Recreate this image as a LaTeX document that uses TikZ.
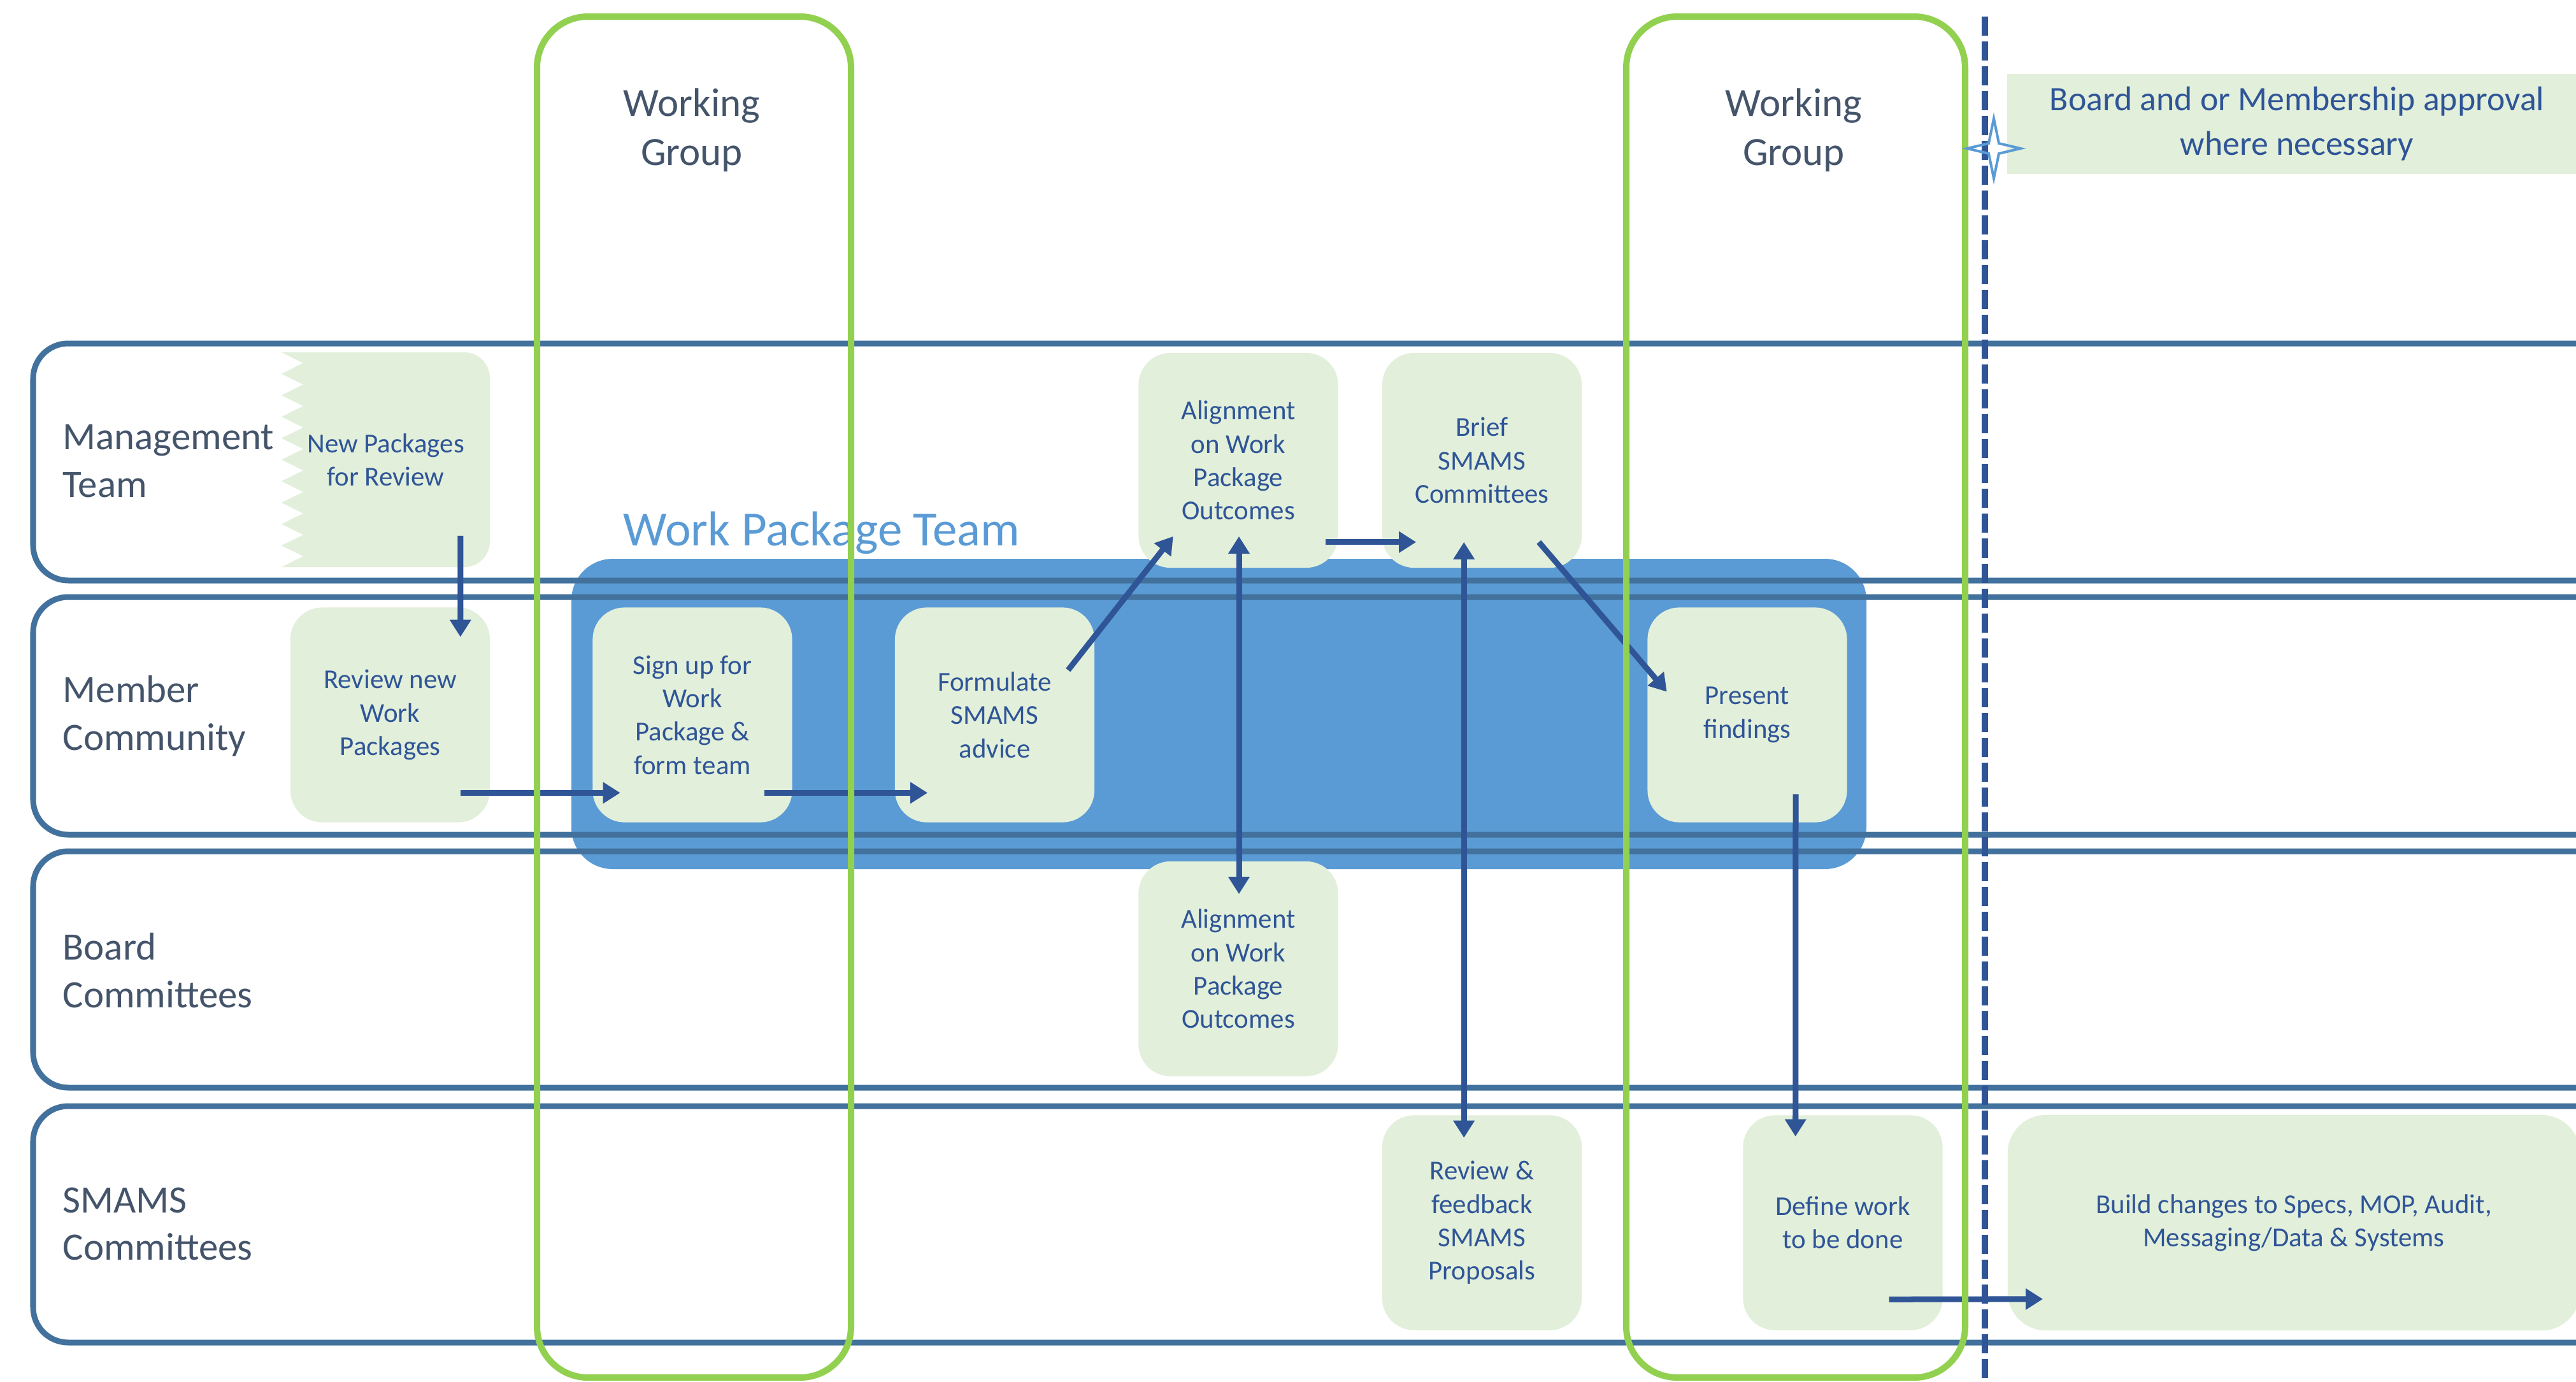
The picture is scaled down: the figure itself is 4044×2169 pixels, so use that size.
\documentclass[tikz,border=0pt]{standalone}
\usepackage{fontspec}
\setmainfont{Carlito}
\usetikzlibrary{arrows.meta,calc}
\definecolor{lanec}{HTML}{41719C}
\definecolor{wptc}{HTML}{5B9BD5}
\definecolor{boxc}{HTML}{E2EFDA}
\definecolor{arrc}{HTML}{2F5597}
\definecolor{labc}{HTML}{44546A}
\definecolor{wgc}{HTML}{92D050}
\newcommand{\bxfont}{\fontsize{12.2pt}{14.9pt}\selectfont}
\newcommand{\lanefont}{\fontsize{17.3pt}{21.3pt}\selectfont}
\newcommand{\wgfont}{\fontsize{17.9pt}{21.9pt}\selectfont}
\begin{document}
\begin{tikzpicture}[x=0.01cm,y=-0.01cm,
  lane/.style={draw=lanec,line width=0.09cm,rounded corners=0.55cm},
  gbox/.style={fill=boxc,rounded corners=0.5cm,minimum width=3.13cm,minimum height=3.37cm,align=center,text=arrc,font=\bxfont,inner sep=0pt},
  lanelabel/.style={anchor=west,align=left,text=labc,font=\lanefont,inner sep=0pt},
  wglabel/.style={align=center,text=labc,font=\wgfont,inner sep=0pt},
  wgbox/.style={draw=wgc,line width=0.1cm,rounded corners=0.8cm},
  flow/.style={draw=arrc,line width=0.09cm,-{Triangle[length=0.27cm,width=0.32cm]}},
  flow2/.style={draw=arrc,line width=0.09cm,{Triangle[length=0.27cm,width=0.32cm]}-{Triangle[length=0.27cm,width=0.32cm]}}
]
\clip (0,0) rectangle (4044,2169);
\fill[white] (0,0) rectangle (4044,2169);

% Work Package Team background
\fill[wptc,rounded corners=0.65cm] (897,877) rectangle (2930,1364);
\node[text=wptc,font=\fontsize{21.9pt}{26pt}\selectfont,inner sep=0pt] (wptlabel) at (1290,836) {Work Package Team};

% swim lanes
\draw[lane] (4120,539) -- (52,539) -- (52,911) -- (4120,911);
\draw[lane] (4120,937) -- (52,937) -- (52,1310) -- (4120,1310);
\draw[lane] (4120,1336) -- (52,1336) -- (52,1707) -- (4120,1707);
\draw[lane] (4120,1736) -- (52,1736) -- (52,2107) -- (4120,2107);

\node[lanelabel] (l1) at (98,724) {Management\\Team};
\node[lanelabel] (l2) at (98,1124) {Member\\Community};
\node[lanelabel] (l3) at (98,1523) {Board\\Committees};
\node[lanelabel] (l4) at (98,1921) {SMAMS\\Committees};

% New Packages for Review (zigzag left edge)
\fill[boxc] (442,553) -- (729,553) to[rounded corners=0.4cm] (769,553) -- (769,600)
  -- (769,850) to[rounded corners=0.4cm] (769,890) -- (729,890) -- (442,890)
  -- (476,873.15) -- (442,856.3) -- (476,839.45) -- (442,822.6) -- (476,805.75) -- (442,788.9)
  -- (476,772.05) -- (442,755.2) -- (476,738.35) -- (442,721.5) -- (476,704.65) -- (442,687.8)
  -- (476,670.95) -- (442,654.1) -- (476,637.25) -- (442,620.4) -- (476,603.55) -- (442,586.7)
  -- (476,569.85) -- cycle;
\node[align=center,text=arrc,font=\bxfont,inner sep=0pt,minimum width=3.27cm,minimum height=3.37cm] (np) at (605.5,721.5) {New Packages\\for Review};

% boxes
\node[gbox] (rn) at (612.5,1122) {Review new\\Work\\Packages};
\node[gbox] (su) at (1087,1122) {Sign up for\\Work\\Package \&\\form team};
\node[gbox] (fs) at (1561.5,1122) {Formulate\\SMAMS\\advice};
\node[gbox] (at) at (1944,722.5) {Alignment\\on Work\\Package\\Outcomes};
\node[gbox] (bs) at (2326.5,722.5) {Brief\\SMAMS\\Committees};
\node[gbox] (pf) at (2743,1122) {Present\\findings};
\node[gbox] (ab) at (1944,1520.5) {Alignment\\on Work\\Package\\Outcomes};
\node[gbox] (rf) at (2326.5,1919) {Review \&\\feedback\\SMAMS\\Proposals};
\node[gbox] (dw) at (2893,1919) {Define work\\to be done};
\node[gbox,rounded corners=0.6cm,minimum width=8.98cm,minimum height=3.38cm] (bc) at (3601,1919) {Build changes to Specs, MOP, Audit,\\Messaging/Data \& Systems};

% board approval
\node[fill=boxc,minimum width=9.1cm,minimum height=1.57cm,align=center,text=arrc,inner sep=0pt,font=\fontsize{15.3pt}{19.9pt}\selectfont] (ba) at (3606,194.5) {Board and or Membership approval\\where necessary};

% arrows
\draw[flow] ($(np.south east)+(-47,-50)$) -- ($(rn.north east)+(-47,47)$);
\draw[flow] ($(rn.south east)+(-47,-47)$) -- ($(su.south west)+(44,-47)$);
\draw[flow] ($(su.south east)+(-44,-47)$) -- ($(fs.south west)+(52,-47)$);
\draw[flow] ($(fs.north east)+(-42,99)$) -- ($(at.south west)+(55,-50)$);
\draw[flow2] ($(at.south)+(1,-50)$) -- ($(ab.north)+(1,52)$);
\draw[flow] ($(at.south east)+(-20,-41)$) -- ($(bs.south west)+(54,-41)$);
\draw[flow2] ($(bs.south west)+(129,-41)$) -- ($(rf.north west)+(129,36)$);
\draw[flow] ($(bs.south east)+(-68,-41)$) -- ($(pf.north west)+(31,133)$);
\draw[flow] ($(pf.south)+(76,-45)$) -- ($(dw.north west)+(83,34)$);
\draw[flow] ($(dw.south west)+(230,-49)$) -- ($(bc.south west)+(56,-50)$);

% working groups
\draw[wgbox] (843,26) rectangle (1336,2162);
\draw[wgbox] (2553,26) rectangle (3085,2162);
\node[wglabel] (wg1) at (1086,204) {Working\\Group};
\node[wglabel] (wg2) at (2816,204) {Working\\Group};

% dashed boundary and star
\coordinate (dtop) at (3116,26);
\coordinate (dbot) at (3116,2169);
\draw[arrc,line width=0.1cm,dash pattern=on 0.3cm off 0.09cm] (dtop) -- (dbot);
\draw[wptc,line width=0.04cm,line join=miter] (3130,186) -- (3138,225) -- (3172,233) -- (3138,241) -- (3130,280) -- (3122,241) -- (3088,233) -- (3122,225) -- cycle;
\end{tikzpicture}
\end{document}
